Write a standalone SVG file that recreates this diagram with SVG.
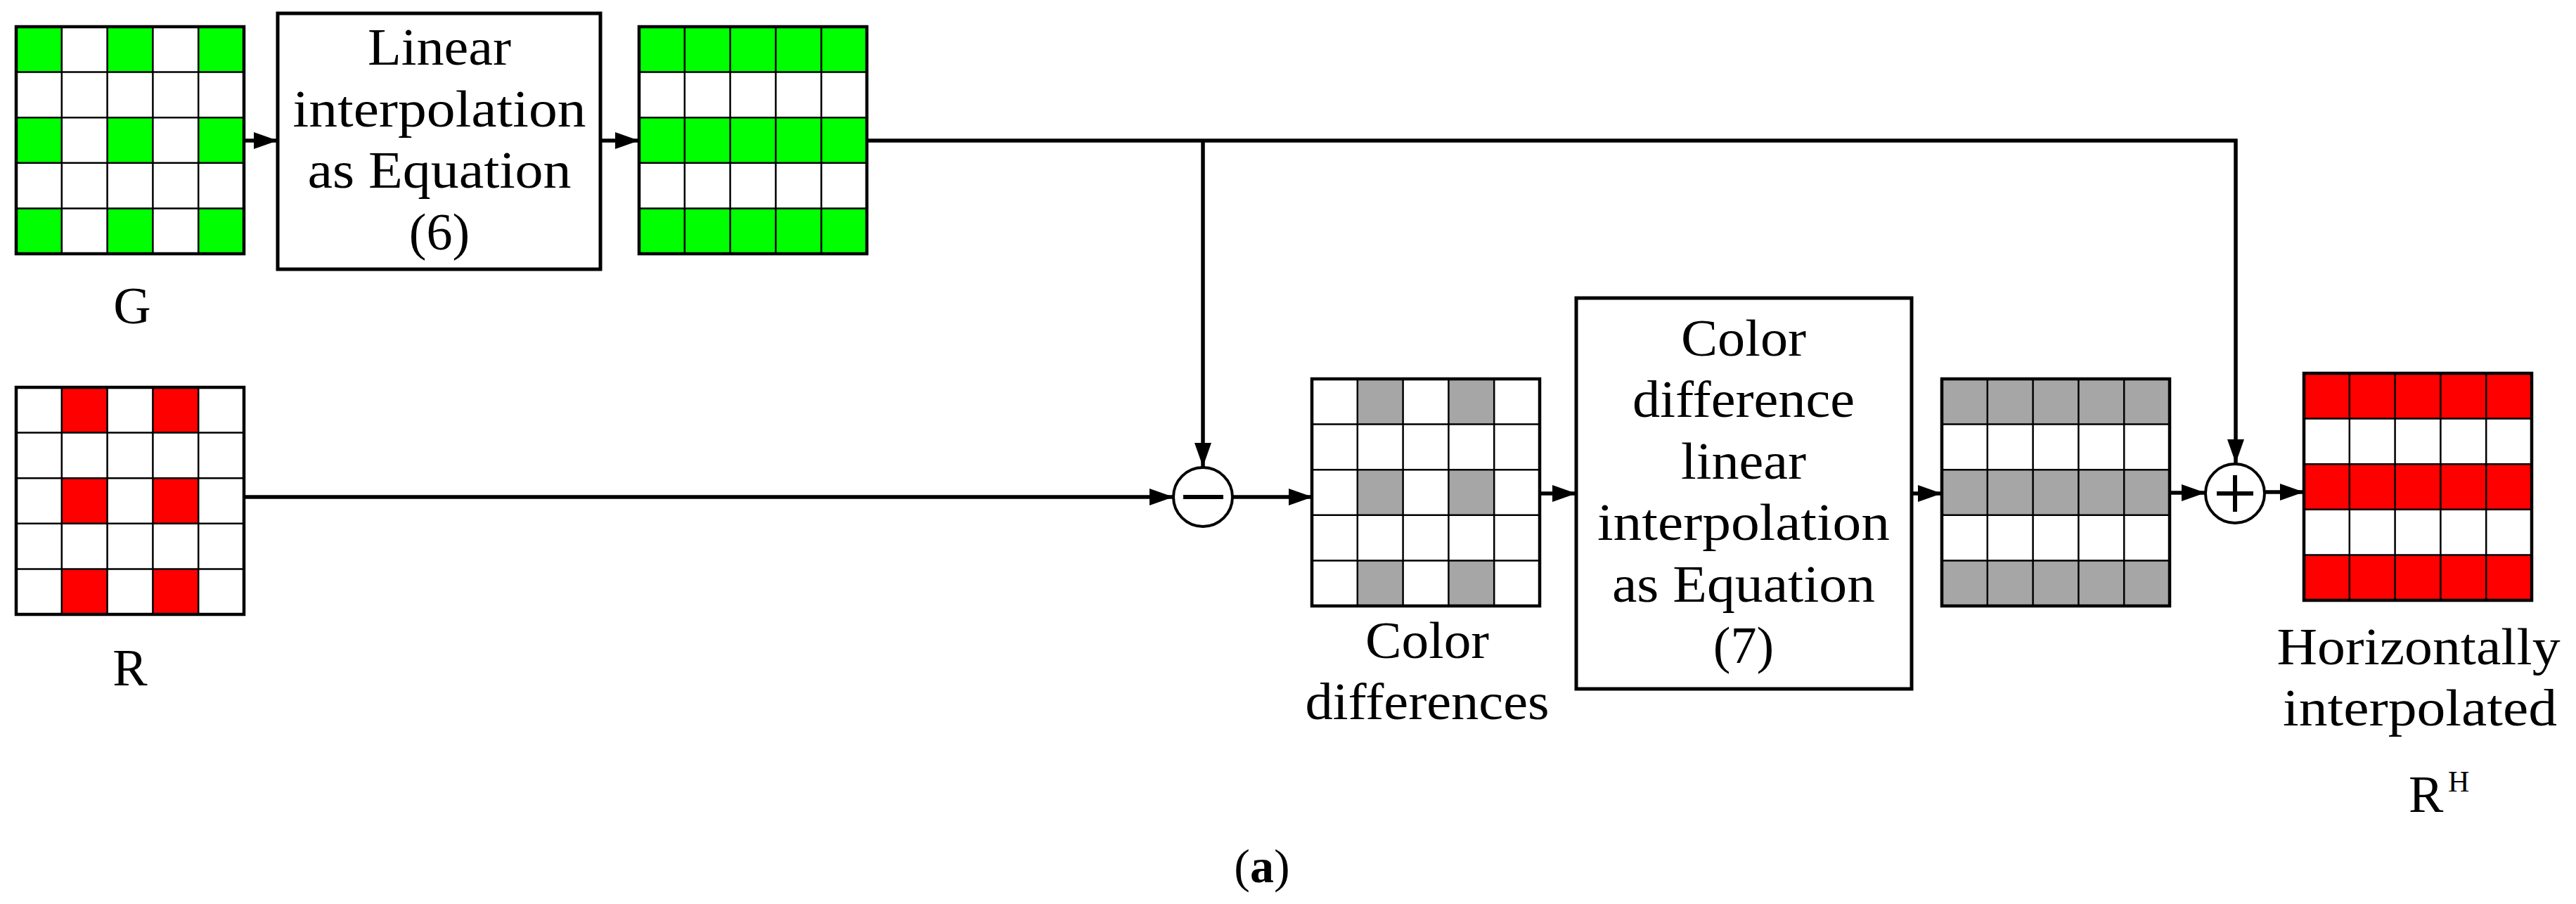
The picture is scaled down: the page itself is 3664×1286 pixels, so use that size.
<svg xmlns="http://www.w3.org/2000/svg" xmlns:xlink="http://www.w3.org/1999/xlink" width="3664" height="1286" viewBox="0 0 3664 1286">
<style>
text{font-family:"Liberation Serif","Times New Roman",serif;font-size:74px;fill:#000;text-anchor:middle}
.box{fill:#fff;stroke:#000;stroke-width:5}
.outer{fill:none;stroke:#000;stroke-width:4.5}
.inner{stroke:#000;stroke-width:2.5}
.wire{fill:none;stroke:#000;stroke-width:5.5}
.op{fill:#fff;stroke:#000;stroke-width:4}
.sym{stroke:#000;stroke-width:6}
</style>
<defs>
<marker id="arr" markerUnits="userSpaceOnUse" markerWidth="34" markerHeight="24" viewBox="0 0 34 24" refX="34" refY="12" orient="auto">
<path d="M0,0 L34,12 L0,24 Z" fill="#000"/>
</marker>
<g id="lines">
<rect class="outer" x="0" y="0" width="324" height="323"/>
<path class="inner" d="M64.8,0V323M129.6,0V323M194.4,0V323M259.2,0V323M0,64.6H324M0,129.2H324M0,193.8H324M0,258.4H324"/>
</g>
<g id="checker">
<rect x="0" y="0" width="64.8" height="64.6"/><rect x="129.6" y="0" width="64.8" height="64.6"/><rect x="259.2" y="0" width="64.8" height="64.6"/>
<rect x="0" y="129.2" width="64.8" height="64.6"/><rect x="129.6" y="129.2" width="64.8" height="64.6"/><rect x="259.2" y="129.2" width="64.8" height="64.6"/>
<rect x="0" y="258.4" width="64.8" height="64.6"/><rect x="129.6" y="258.4" width="64.8" height="64.6"/><rect x="259.2" y="258.4" width="64.8" height="64.6"/>
</g>
<g id="cols">
<rect x="64.8" y="0" width="64.8" height="64.6"/><rect x="194.4" y="0" width="64.8" height="64.6"/>
<rect x="64.8" y="129.2" width="64.8" height="64.6"/><rect x="194.4" y="129.2" width="64.8" height="64.6"/>
<rect x="64.8" y="258.4" width="64.8" height="64.6"/><rect x="194.4" y="258.4" width="64.8" height="64.6"/>
</g>
<g id="rows">
<rect x="0" y="0" width="324" height="64.6"/><rect x="0" y="129.2" width="324" height="64.6"/><rect x="0" y="258.4" width="324" height="64.6"/>
</g>
</defs>
<rect x="0" y="0" width="3664" height="1286" fill="#fff"/>

<g id="connectors">
<line class="wire" x1="347" y1="200" x2="395" y2="200" marker-end="url(#arr)"/>
<line class="wire" x1="854" y1="200" x2="909" y2="200" marker-end="url(#arr)"/>
<polyline class="wire" points="1233,200 3180,200 3180,659" marker-end="url(#arr)"/>
<line class="wire" x1="1711" y1="200" x2="1711" y2="664" marker-end="url(#arr)"/>
<line class="wire" x1="347" y1="707" x2="1669" y2="707" marker-end="url(#arr)"/>
<line class="wire" x1="1753" y1="707" x2="1867" y2="707" marker-end="url(#arr)"/>
<line class="wire" x1="2189" y1="702" x2="2242" y2="702" marker-end="url(#arr)"/>
<line class="wire" x1="2719" y1="702" x2="2762" y2="702" marker-end="url(#arr)"/>
<line class="wire" x1="3086" y1="701" x2="3137" y2="701" marker-end="url(#arr)"/>
<line class="wire" x1="3221" y1="700" x2="3277" y2="700" marker-end="url(#arr)"/>
</g>

<g id="grid-G">
<g transform="translate(23,38)"><use xlink:href="#checker" fill="#00ff00"/><use xlink:href="#lines"/></g>
<text x="188" y="460">G</text>
</g>

<g id="box-linear">
<rect class="box" x="395" y="19" width="459" height="364"/>
<text x="625" y="92" textLength="204" lengthAdjust="spacingAndGlyphs">Linear</text>
<text x="625" y="180" textLength="417" lengthAdjust="spacingAndGlyphs">interpolation</text>
<text x="625" y="267" textLength="375" lengthAdjust="spacingAndGlyphs">as Equation</text>
<text x="625" y="355">(6)</text>
</g>

<g id="grid-G-interp">
<g transform="translate(909,38)"><use xlink:href="#rows" fill="#00ff00"/><use xlink:href="#lines"/></g>
</g>

<g id="grid-R">
<g transform="translate(23,551)"><use xlink:href="#cols" fill="#ff0000"/><use xlink:href="#lines"/></g>
<text x="185" y="975">R</text>
</g>

<g id="op-minus">
<circle class="op" cx="1711" cy="707" r="42"/>
<line class="sym" x1="1683" y1="707" x2="1740" y2="707"/>
</g>

<g id="grid-diff">
<g transform="translate(1866,539)"><use xlink:href="#cols" fill="#a6a6a6"/><use xlink:href="#lines"/></g>
<text x="2030" y="936" textLength="176" lengthAdjust="spacingAndGlyphs">Color</text>
<text x="2030" y="1023" textLength="347" lengthAdjust="spacingAndGlyphs">differences</text>
</g>

<g id="box-diff">
<rect class="box" x="2242" y="424" width="477" height="556"/>
<text x="2480" y="506" textLength="178" lengthAdjust="spacingAndGlyphs">Color</text>
<text x="2480" y="593" textLength="316" lengthAdjust="spacingAndGlyphs">difference</text>
<text x="2480" y="681" textLength="178" lengthAdjust="spacingAndGlyphs">linear</text>
<text x="2480" y="768" textLength="416" lengthAdjust="spacingAndGlyphs">interpolation</text>
<text x="2480" y="856" textLength="374" lengthAdjust="spacingAndGlyphs">as Equation</text>
<text x="2480" y="943">(7)</text>
</g>

<g id="grid-diff-interp">
<g transform="translate(2762,539)"><use xlink:href="#rows" fill="#a6a6a6"/><use xlink:href="#lines"/></g>
</g>

<g id="op-plus">
<circle class="op" cx="3179" cy="702" r="42"/>
<path class="sym" d="M3153,702H3205M3179,676V728"/>
</g>

<g id="grid-RH">
<g transform="translate(3277,531)"><use xlink:href="#rows" fill="#ff0000"/><use xlink:href="#lines"/></g>
<text x="3440" y="945" textLength="403" lengthAdjust="spacingAndGlyphs">Horizontally</text>
<text x="3442" y="1032" textLength="390" lengthAdjust="spacingAndGlyphs">interpolated</text>
<text x="3426" y="1155" style="text-anchor:start">R</text>
<text x="3482" y="1126" style="text-anchor:start;font-size:42px">H</text>
</g>

<g id="caption">
<text x="1795" y="1255" style="font-size:68px">(<tspan font-weight="bold">a</tspan>)</text>
</g>
</svg>
